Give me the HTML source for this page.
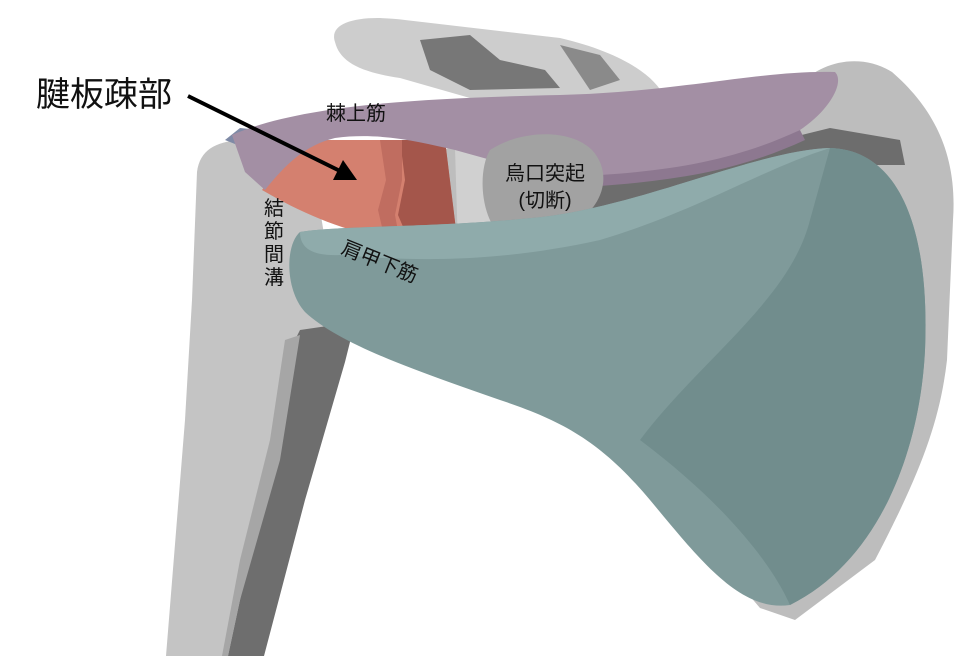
<!DOCTYPE html>
<html><head><meta charset="utf-8"><style>
html,body{margin:0;padding:0;background:#fff;}
svg{display:block}
text{font-family:"Liberation Sans","Noto Sans CJK JP",sans-serif;fill:#111}
</style></head><body>
<svg width="972" height="656" viewBox="0 0 972 656" xmlns="http://www.w3.org/2000/svg">
<path d="M197,172 C200,150 215,142 240,140 L310,150 L340,330 C310,360 295,400 290,450 L262,656 L166,656 L185,420 L192,300 Z" fill="#c4c4c4"/>
<path d="M300,330 L355,322 L345,362 L305,500 L264,656 L228,656 L240,600 L275,450 L290,350 Z" fill="#6e6e6e"/>
<path d="M285,340 L300,335 L280,460 L240,600 L228,656 L222,656 L240,560 L270,440 Z" fill="#a6a6a6"/>
<path d="M335,42 C328,22 360,14 405,20 L560,38 C620,52 655,75 665,98 L600,104 L470,98 L400,78 C360,72 340,62 335,42 Z" fill="#cdcdcd"/>
<path d="M420,40 L470,35 L500,60 L545,70 L560,88 L470,90 L430,70 Z" fill="#777"/>
<path d="M560,45 L600,55 L620,80 L590,90 Z" fill="#8a8a8a"/>
<path d="M440,150 L620,110 L800,85 C820,62 860,52 892,72 C930,105 958,150 953,220 L947,360 C940,420 922,470 875,560 L795,620 L760,608 L600,420 L430,300 Z" fill="#bdbdbd"/>
<path d="M560,180 L700,160 L830,128 L900,140 L905,165 L800,165 L700,205 L600,230 L460,250 L460,230 Z" fill="#6d6d6d"/>
<path d="M455,148 L495,145 L495,245 L458,248 Z" fill="#d0d0d0"/>
<path d="M262,190 L300,140 L445,140 L458,246 L420,243 C360,238 310,218 262,190 Z" fill="#d4806f"/>
<path d="M400,140 L445,140 L458,246 L410,243 L398,215 L405,180 Z" fill="#a4564b"/>
<path d="M380,140 L402,140 L402,180 L395,215 L400,242 L385,240 L378,210 L386,180 Z" fill="#c06d60"/>
<path d="M225,140 L240,128 L260,130 L250,150 Z" fill="#7f8aa6"/>
<path d="M232,135 C300,105 420,98 560,95 C680,92 760,70 835,72 C845,82 830,110 800,130 C740,160 680,172 600,180 L520,168 L455,150 C420,142 380,132 335,138 C305,145 285,165 265,190 L245,172 Z" fill="#a38fa4"/>
<path d="M600,175 C680,170 740,158 800,130 L805,140 C740,170 680,180 600,186 Z" fill="#8d7890"/>
<path d="M490,150 C520,130 570,128 592,150 C615,175 600,210 575,222 C555,240 520,246 500,235 C480,215 478,170 490,150 Z" fill="#a2a2a2"/>
<path d="M300,232 C340,225 450,228 550,216 C650,202 760,150 830,148 C900,150 930,230 925,350 C920,450 880,560 790,605 C740,612 700,560 650,500 C600,440 560,420 500,400 C420,372 340,345 305,312 C285,290 285,245 300,232 Z" fill="#7f9a9a"/>
<path d="M300,232 C340,225 450,228 550,216 C650,202 760,150 830,148 C760,170 700,210 600,240 C500,262 420,262 340,255 C315,256 300,250 300,232 Z" fill="#8fabab"/>
<path d="M830,148 C900,150 930,230 925,350 C920,450 880,560 790,605 C770,560 720,500 640,440 C700,360 790,300 810,220 Z" fill="#718d8d"/>
<line x1="188" y1="96" x2="340" y2="171" stroke="#000" stroke-width="4"/>
<polygon points="357,180 333,180 343,160" fill="#000"/>
<text x="36" y="106" font-size="34">腱板疎部</text>
<text x="326" y="120" font-size="20">棘上筋</text>
<text x="545" y="180" font-size="20" text-anchor="middle">烏口突起</text>
<text x="545" y="207" font-size="20" text-anchor="middle">(切断)</text>
<text x="274" y="215" font-size="20" text-anchor="middle">結</text>
<text x="274" y="238" font-size="20" text-anchor="middle">節</text>
<text x="274" y="261" font-size="20" text-anchor="middle">間</text>
<text x="274" y="284" font-size="20" text-anchor="middle">溝</text>
<text x="340" y="253" font-size="20" transform="rotate(22 340 253)">肩甲下筋</text>
</svg>
</body></html>
